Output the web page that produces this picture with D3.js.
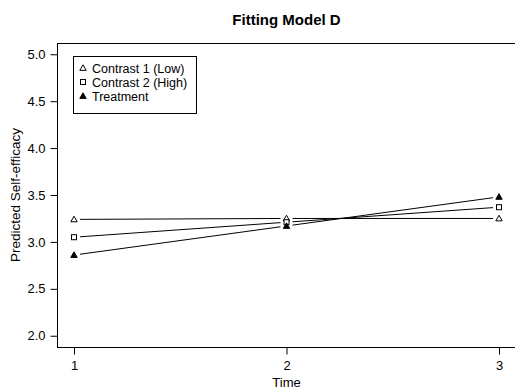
<!DOCTYPE html>
<html>
<head>
<meta charset="utf-8">
<script src="https://cdn.jsdelivr.net/npm/d3@7"></script>
<style>
  body { margin: 0; background: #fff; }
  svg { display: block; font-family: "Liberation Sans", Arial, Helvetica, sans-serif; }
</style>
</head>
<body>
<div id="wrapper"></div>
<script>
// data
const times = [1, 2, 3];
const contrastLow = [3.24, 3.25, 3.25];
const contrastHigh = [3.05, 3.21, 3.37];
const treatment = [2.86, 3.17, 3.48];
const seriesNames = ["Contrast 1 (Low)", "Contrast 2 (High)", "Treatment"];
const seriesShapes = ["openTriangle", "openSquare", "filledTriangle"];
const yTicks = [2.0, 2.5, 3.0, 3.5, 4.0, 4.5, 5.0];

function buildPlot() {
    const dimension = {
        width: 515,
        height: 391,
        margin: { top: 43, left: 57, bottom: 44, right: -1 }
    };

    const svg = d3.select("#wrapper").append("svg")
        .attr("width", dimension.width)
        .attr("height", dimension.height);

    const x0 = dimension.margin.left;
    const x1 = dimension.width - dimension.margin.right;
    const y0 = dimension.margin.top;
    const y1 = dimension.height - dimension.margin.bottom;

    // R style 4% padding on the domains
    const xScaler = d3.scaleLinear().domain([0.92, 3.08]).range([x0, x1]);
    const yScaler = d3.scaleLinear().domain([1.88, 5.12]).range([y1, y0]);

    // plot box
    svg.append("rect")
        .attr("x", x0 + 0.5).attr("y", y0 + 0.5)
        .attr("width", x1 - x0).attr("height", y1 - y0)
        .attr("fill", "none").attr("stroke", "#000").attr("stroke-width", 1);

    // axes
    const yAxis = svg.append("g")
        .attr("transform", `translate(${x0 + 0.5},0)`)
        .call(d3.axisLeft(yScaler).tickValues(yTicks).tickFormat(d3.format(".1f")).tickSize(7).tickPadding(5));
    const xAxis = svg.append("g")
        .attr("transform", `translate(0,${y1 + 0.5})`)
        .call(d3.axisBottom(xScaler).tickValues(times).tickFormat(d3.format("d")).tickSize(7).tickPadding(6));

    [yAxis, xAxis].forEach(function (ax) {
        ax.select(".domain").remove();
        ax.selectAll("text")
            .attr("font-family", "'Liberation Sans', Arial, sans-serif")
            .attr("font-size", 13).attr("fill", "#000");
        ax.selectAll("line").attr("stroke", "#000");
    });

    // title and axis titles
    svg.append("text")
        .attr("x", (x0 + x1) / 2).attr("y", 25)
        .attr("text-anchor", "middle")
        .style("font-size", "15px").style("font-weight", "bold")
        .text("Fitting Model D");

    svg.append("text")
        .attr("x", (x0 + x1) / 2).attr("y", 387)
        .attr("text-anchor", "middle")
        .style("font-size", "13px")
        .text("Time");

    svg.append("text")
        .attr("transform", `translate(20,${(y0 + y1) / 2}) rotate(-90)`)
        .attr("text-anchor", "middle")
        .style("font-size", "13.5px")
        .text("Predicted Self-efficacy");

    const allSeries = [contrastLow, contrastHigh, treatment];

    function drawMarker(g, shape, cx, cy) {
        if (shape === "openSquare") {
            g.append("rect")
                .attr("x", cx - 2.5).attr("y", cy - 2.5)
                .attr("width", 5).attr("height", 5)
                .attr("fill", "#fff").attr("stroke", "#000").attr("stroke-width", 1);
        } else {
            const filled = shape === "filledTriangle";
            g.append("path")
                .attr("d", `M${cx},${cy - 3.2}L${cx + 3.2},${cy + 2.4}L${cx - 3.2},${cy + 2.4}Z`)
                .attr("fill", filled ? "#000" : "#fff")
                .attr("stroke", "#000").attr("stroke-width", 1);
        }
    }

    // lines with gaps around points (type = "b")
    const gap = 6;
    allSeries.forEach(function (vals, si) {
        const g = svg.append("g");
        for (let i = 0; i < times.length - 1; i++) {
            const ax = xScaler(times[i]), ay = yScaler(vals[i]);
            const bx = xScaler(times[i + 1]), by = yScaler(vals[i + 1]);
            const len = Math.hypot(bx - ax, by - ay);
            const ux = (bx - ax) / len, uy = (by - ay) / len;
            g.append("line")
                .attr("x1", ax + ux * gap).attr("y1", ay + uy * gap)
                .attr("x2", bx - ux * gap).attr("y2", by - uy * gap)
                .attr("stroke", "#000").attr("stroke-width", 1);
        }
        times.forEach(function (t, i) {
            drawMarker(g, seriesShapes[si], xScaler(t), yScaler(vals[i]));
        });
    });

    // legend
    const legend = svg.append("g");
    legend.append("rect")
        .attr("x", 73.5).attr("y", 56.5)
        .attr("width", 123).attr("height", 57)
        .attr("fill", "#fff").attr("stroke", "#000").attr("stroke-width", 1);
    seriesNames.forEach(function (name, i) {
        const cy = 68 + i * 14;
        drawMarker(legend, seriesShapes[i], 83, cy);
        legend.append("text")
            .attr("x", 92).attr("y", cy + 4.5)
            .style("font-size", "12.5px")
            .text(name);
    });
}

buildPlot();
</script>
</body>
</html>
